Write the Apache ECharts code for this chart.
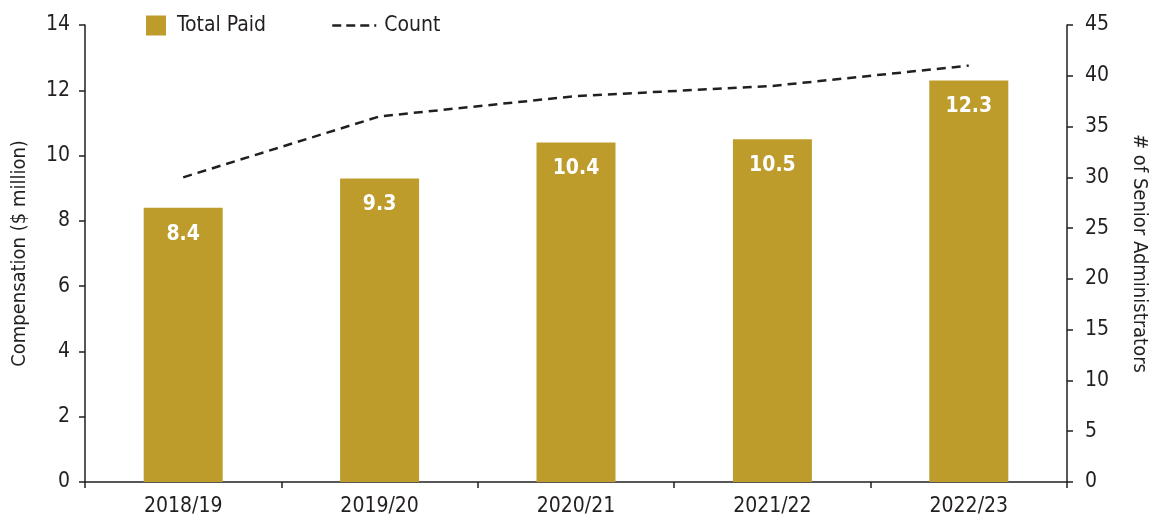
<!DOCTYPE html>
<html><head><meta charset="utf-8">
<script src="https://cdn.jsdelivr.net/npm/echarts@6/dist/echarts.min.js"></script>
<style>html,body{margin:0;padding:0;background:#fff}#c{width:1150px;height:521px}</style>
</head><body><div id="c"></div>
<script>
const categories = ['2018/19','2019/20','2020/21','2021/22','2022/23'];
const totalPaid = [8.4, 9.3, 10.4, 10.5, 12.3];
const countValues = [30, 36, 38, 39, 41];
const leftTicks = [0,2,4,6,8,10,12,14];
const rightTicks = [0,5,10,15,20,25,30,35,40,45];

const FONT = '"Liberation Sans Narrow","DejaVu Sans Condensed","Roboto",sans-serif';
const TXT = '#231f20';
const chart = echarts.init(document.getElementById('c'));
chart.setOption({
  animation:false,
  textStyle:{fontFamily:FONT},
  legend:[
    {left:141, top:10, itemWidth:20, itemHeight:20,
     textStyle:{fontSize:21, color:TXT, fontFamily:FONT, padding:[0,0,0,6]},
     data:[{name:'Total Paid', icon:'rect'}]},
    {left:326, top:10, itemWidth:44, itemHeight:20,
     textStyle:{fontSize:21, color:TXT, fontFamily:FONT, padding:[0,0,0,3]},
     itemStyle:{opacity:0},
     lineStyle:{color:TXT, width:2.5, type:[9,5], opacity:1},
     data:[{name:'Count'}]}
  ],
  grid:{left:85, right:83, top:25, bottom:39, containLabel:false, outerBoundsMode:'none'},
  xAxis:{
    type:'category', data:categories,
    axisLine:{lineStyle:{color:TXT, width:1.5}},
    axisTick:{show:true, length:6, lineStyle:{color:TXT, width:1.5}},
    axisLabel:{fontSize:21, color:TXT, margin:14, fontFamily:FONT}
  },
  yAxis:[
    {type:'value', min:leftTicks[0], max:leftTicks[leftTicks.length-1], interval:2,
     name:'Compensation ($ million)', nameLocation:'middle', nameGap:55, nameRotate:90,
     nameTextStyle:{fontSize:20, color:TXT, fontFamily:FONT},
     axisLine:{show:true, lineStyle:{color:TXT, width:1.5}},
     axisTick:{show:true, length:6, lineStyle:{color:TXT, width:1.5}},
     axisLabel:{fontSize:21, color:TXT, margin:15, fontFamily:FONT},
     splitLine:{show:false}},
    {type:'value', min:rightTicks[0], max:rightTicks[rightTicks.length-1], interval:5,
     name:'# of Senior Administrators', nameLocation:'middle', nameGap:62, nameRotate:-90,
     nameTextStyle:{fontSize:20, color:TXT, fontFamily:FONT},
     axisLine:{show:true, lineStyle:{color:TXT, width:1.5}},
     axisTick:{show:true, length:6, lineStyle:{color:TXT, width:1.5}},
     axisLabel:{fontSize:21, color:TXT, margin:18, fontFamily:FONT},
     splitLine:{show:false}}
  ],
  series:[
    {name:'Total Paid', type:'bar', data:totalPaid, barWidth:79, yAxisIndex:0,
     itemStyle:{color:'#bd9c2c'},
     label:{show:true, position:'insideTop', distance:16, color:'#fff', fontWeight:'bold', fontSize:21, fontFamily:FONT,
       formatter:p=>p.value.toFixed(1)}},
    {name:'Count', type:'line', data:countValues, yAxisIndex:1, symbol:'none',
     lineStyle:{color:TXT, width:2.5, type:[9,6]}, itemStyle:{color:TXT}}
  ]
});
</script></body></html>
